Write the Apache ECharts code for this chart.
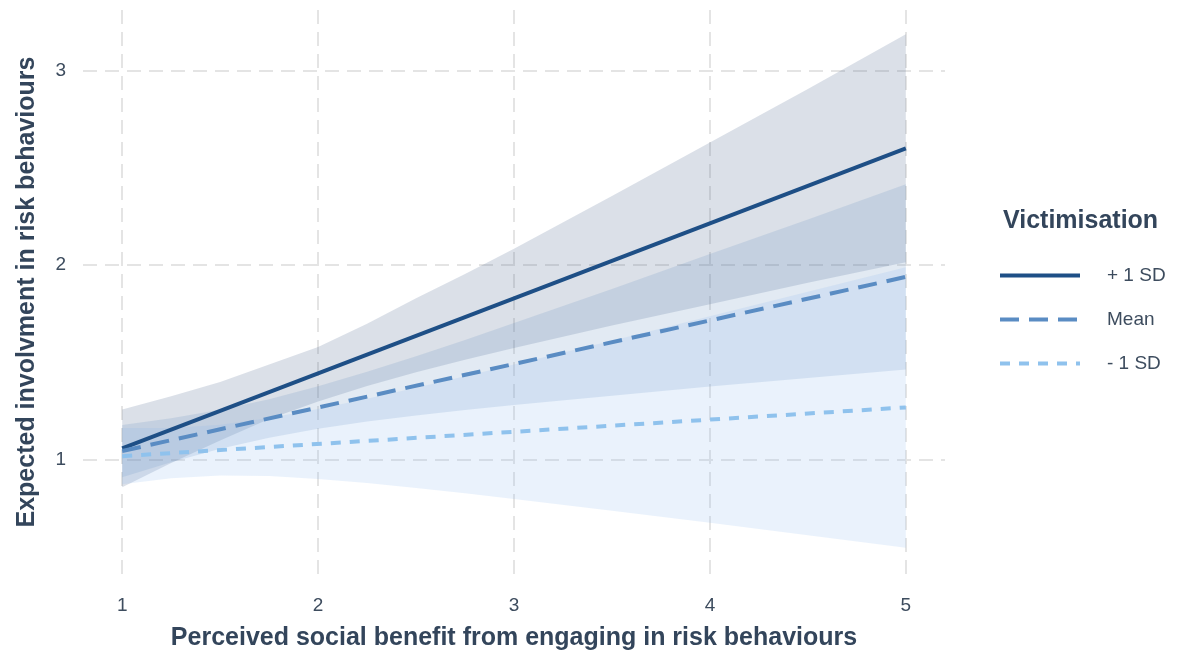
<!DOCTYPE html>
<html>
<head>
<meta charset="utf-8">
<script src="https://cdn.jsdelivr.net/npm/echarts@6/dist/echarts.min.js"></script>
<style>
  html, body { margin: 0; padding: 0; background: #ffffff; }
  #chart { width: 1186px; height: 660px; }
</style>
</head>
<body>
<div id="chart"></div>
<script>
// Predicted involvement by perceived social benefit, at three levels of victimisation
const groupNames = ['+ 1 SD', 'Mean', '- 1 SD'];

// x positions where the confidence bands are given
const bandX = [1, 1.25, 1.5, 1.75, 2, 2.25, 2.5, 2.75, 3, 3.5, 4, 4.5, 5];

// + 1 SD band
const plusLow  = [0.86, 0.985, 1.10, 1.21, 1.30, 1.38, 1.45, 1.515, 1.575, 1.69, 1.80, 1.91, 2.015];
const plusHigh = [1.26, 1.327, 1.40, 1.49, 1.58, 1.70, 1.83, 1.955, 2.085, 2.355, 2.63, 2.905, 3.185];

// Mean band
const meanLow  = [0.912, 0.989, 1.058, 1.115, 1.161, 1.198, 1.229, 1.257, 1.283, 1.330, 1.377, 1.421, 1.465];
const meanHigh = [1.18, 1.215, 1.258, 1.312, 1.379, 1.453, 1.533, 1.616, 1.703, 1.878, 2.057, 2.235, 2.415];

// - 1 SD band
const minusLow  = [0.876, 0.907, 0.921, 0.918, 0.903, 0.882, 0.857, 0.829, 0.80, 0.74, 0.678, 0.614, 0.55];
const minusHigh = [1.164, 1.165, 1.181, 1.216, 1.262, 1.314, 1.371, 1.430, 1.49, 1.612, 1.738, 1.864, 1.99];

// fitted lines (end points)
const lineX     = [1, 5];
const plusFit   = [1.06, 2.60];
const meanFit   = [1.046, 1.94];
const minusFit  = [1.02, 1.27];

// axis ticks
const xTicks = [1, 2, 3, 4, 5];
const yTicks = [1, 2, 3];

const FONT = '"Liberation Sans", Arial, Helvetica, sans-serif';
const TEXT_DARK = '#33455b';
const TICK_TEXT = '#3d4c5e';
const GRID_COLOR = '#e4e4e4';

function bandSeries(name, low, high, fill, z) {
  const rows = bandX.map((x, i) => [x, low[i], high[i]]);
  return {
    type: 'custom',
    name: name + ' band',
    data: rows,
    encode: { x: 0, y: [1, 2] },
    z: z,
    silent: true,
    renderItem: function (params, api) {
      if (params.dataIndex !== 0) return null;
      const top = rows.map(r => api.coord([r[0], r[2]]));
      const bottom = rows.slice().reverse().map(r => api.coord([r[0], r[1]]));
      return {
        type: 'polygon',
        shape: { points: top.concat(bottom) },
        style: { fill: fill }
      };
    }
  };
}

function lineSeries(name, values, color, type, width) {
  return {
    type: 'line',
    name: name,
    data: lineX.map((x, i) => [x, values[i]]),
    symbol: 'none',
    symbolSize: 0,
    z: 5,
    lineStyle: { color: color, width: width, type: type, cap: 'butt' },
    itemStyle: { color: color },
    silent: true
  };
}

const chart = echarts.init(document.getElementById('chart'), null, { renderer: 'canvas' });

chart.setOption({
  animation: false,
  backgroundColor: '#ffffff',
  grid: { left: 83, right: 241, top: 10, bottom: 86, containLabel: false, outerBoundsMode: 'none' },
  xAxis: {
    type: 'value',
    min: 0.8,
    max: 5.2,
    name: 'Perceived social benefit from engaging in risk behaviours',
    nameLocation: 'middle',
    nameGap: 52,
    nameTextStyle: { fontFamily: FONT, fontSize: 25, fontWeight: 'bold', color: TEXT_DARK },
    axisLine: { show: false },
    axisTick: { show: false, customValues: xTicks },
    axisLabel: { customValues: xTicks, fontFamily: FONT, fontSize: 19, color: TICK_TEXT, margin: 22 },
    splitLine: { show: true, lineStyle: { color: GRID_COLOR, width: 2, type: [14, 8] } }
  },
  yAxis: {
    type: 'value',
    min: 0.415,
    max: 3.31,
    name: 'Expected involvment in risk behaviours',
    nameLocation: 'middle',
    nameGap: 43,
    nameRotate: 90,
    nameTextStyle: { fontFamily: FONT, fontSize: 25, fontWeight: 'bold', color: TEXT_DARK },
    axisLine: { show: false },
    axisTick: { show: false, customValues: yTicks },
    axisLabel: { customValues: yTicks, fontFamily: FONT, fontSize: 19, color: TICK_TEXT, margin: 17 },
    splitLine: { show: true, lineStyle: { color: GRID_COLOR, width: 2, type: [14, 8] } }
  },
  legend: {
    orient: 'vertical',
    left: 993,
    top: 261,
    itemWidth: 80,
    itemHeight: 14,
    itemGap: 25,
    data: groupNames,
    selectedMode: false,
    itemStyle: { opacity: 0 },
    lineStyle: { width: 4 },
    textStyle: { fontFamily: FONT, fontSize: 19, color: TICK_TEXT, padding: [0, 0, 0, 22] }
  },
  graphic: [{
    type: 'text',
    left: 1003,
    top: 209,
    style: { text: 'Victimisation', font: 'bold 25px ' + FONT, fill: TEXT_DARK }
  }],
  series: [
    bandSeries('+ 1 SD', plusLow, plusHigh, 'rgba(55,83,127,0.18)', 1),
    bandSeries('Mean', meanLow, meanHigh, 'rgba(94,138,188,0.18)', 2),
    bandSeries('- 1 SD', minusLow, minusHigh, 'rgba(138,183,238,0.18)', 3),
    lineSeries('+ 1 SD', plusFit, '#1e4f86', 'solid', 4),
    lineSeries('Mean', meanFit, '#5a8cc3', [19, 10], 4),
    lineSeries('- 1 SD', minusFit, '#8fc2ed', [10, 9], 4)
  ]
});
</script>
</body>
</html>
